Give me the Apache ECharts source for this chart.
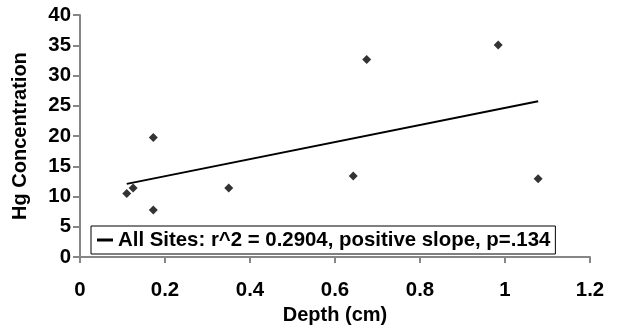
<!DOCTYPE html>
<html>
<head>
<meta charset="utf-8">
<script src="https://cdn.jsdelivr.net/npm/echarts@6/dist/echarts.min.js"></script>
<style>html,body{margin:0;padding:0;background:#fff}#c{width:622px;height:330px}</style>
</head>
<body>
<div id="c"></div>
<script>
var depth = [0.11, 0.125, 0.1725, 0.1725, 0.35, 0.643, 0.6745, 0.984, 1.078];
var hg = [10.5, 11.4, 7.8, 19.75, 11.4, 13.4, 32.65, 35.05, 12.95];
var trendX = [0.11, 1.078];
var trendY = [12.1, 25.75];
var xTicks = [0, 0.2, 0.4, 0.6, 0.8, 1, 1.2];
var yTicks = [0, 5, 10, 15, 20, 25, 30, 35, 40];
var legendLabel = 'All Sites: r^2 = 0.2904, positive slope, p=.134';

var font = 'Liberation Sans';
var fs = 20.4;
var chart = echarts.init(document.getElementById('c'), null, {renderer: 'canvas'});
chart.setOption({
  animation: false,
  backgroundColor: '#fff',
  grid: {left: 80, right: 32, top: 15, bottom: 70, containLabel: false},
  xAxis: {
    type: 'value', min: 0, max: 1.2, interval: 0.2,
    name: 'Depth (cm)', nameLocation: 'middle', nameGap: 45,
    nameTextStyle: {fontFamily: font, fontWeight: 'bold', fontSize: 20, color: '#000'},
    axisLine: {show: true, lineStyle: {color: '#868686', width: 2}},
    axisTick: {show: true, inside: false, length: 6, lineStyle: {color: '#868686', width: 2}},
    axisLabel: {margin: 23, fontFamily: font, fontWeight: 'bold', fontSize: fs, color: '#000',
      formatter: function (v) { return String(Math.round(v * 10) / 10); }},
    splitLine: {show: false}
  },
  yAxis: {
    type: 'value', min: 0, max: 40, interval: 5,
    name: 'Hg Concentration', nameLocation: 'middle', nameGap: 50,
    nameTextStyle: {fontFamily: font, fontWeight: 'bold', fontSize: 20, color: '#000'},
    axisLine: {show: true, lineStyle: {color: '#868686', width: 2}},
    axisTick: {show: true, inside: false, length: 7, lineStyle: {color: '#868686', width: 2}},
    axisLabel: {margin: 9, fontFamily: font, fontWeight: 'bold', fontSize: fs, color: '#000'},
    splitLine: {show: false}
  },
  legend: {
    left: 91, top: 226, orient: 'horizontal',
    data: [{name: legendLabel, icon: 'rect'}],
    itemWidth: 16, itemHeight: 3, itemGap: 5,
    padding: [4, 5, 4, 6],
    backgroundColor: '#fff', borderColor: '#000', borderWidth: 1, borderRadius: 0,
    textStyle: {fontFamily: font, fontWeight: 'bold', fontSize: fs, color: '#000'}
  },
  series: [
    {
      type: 'scatter', name: 'points', symbol: 'diamond', symbolSize: 9,
      itemStyle: {color: '#000'},
      data: depth.map(function (d, i) { return [d, hg[i]]; })
    },
    {
      type: 'line', name: legendLabel, showSymbol: false, symbol: 'none',
      lineStyle: {color: '#000', width: 2}, itemStyle: {color: '#000'},
      data: trendX.map(function (d, i) { return [d, trendY[i]]; })
    }
  ]
});
</script>
</body>
</html>
